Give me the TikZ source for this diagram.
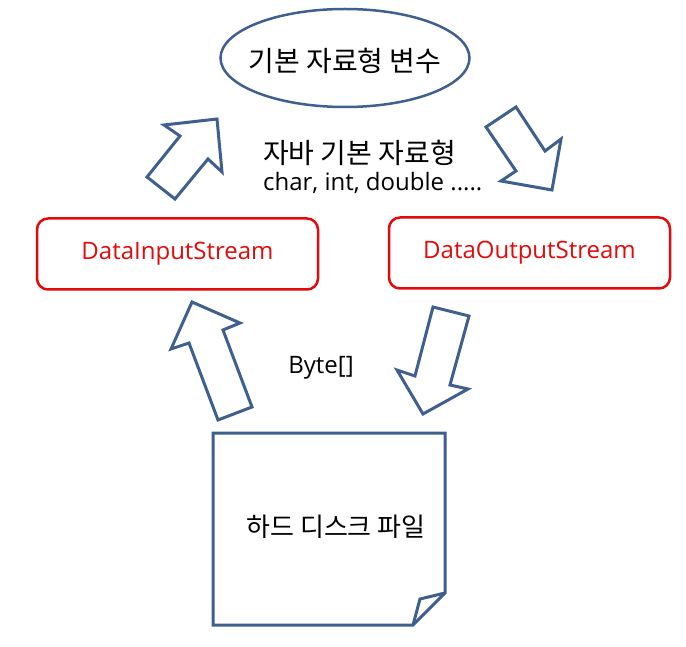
\documentclass[tikz,border=0pt]{standalone}
\usepackage{fontspec}
\setmainfont{Open Sans}
\newfontfamily\kr{Noto Sans CJK KR}
\usetikzlibrary{shapes.geometric}
\definecolor{lineblue}{HTML}{3F5F8F}
\definecolor{boxred}{HTML}{E20A0A}
\tikzset{
  blockarrow/.style={draw=lineblue, line width=3pt, line join=miter, fill=white},
  streambox/.style={draw=boxred, line width=2.5pt, rounded corners=11pt, minimum width=281pt, minimum height=71pt, text=boxred, font=\fontsize{24}{28}\selectfont},
  lbl/.style={font=\fontsize{24}{28}\selectfont, text=black, inner sep=0pt},
  krlbl/.style={font=\kr\fontsize{28}{32}\selectfont, text=black, inner sep=0pt},
}
\begin{document}
\begin{tikzpicture}[x=1pt,y=-1pt]
\useasboundingbox (0,0) rectangle (686,647);
% ellipse
\node[draw=lineblue, line width=2.5pt, ellipse, minimum width=249pt, minimum height=98pt, inner sep=0pt] (var) at (345,58) {};
\node[krlbl] (vartxt) at (345,61) {기본 자료형 변수};
% texts
\node[krlbl, anchor=west] (jtype) at (263,153) {자바 기본 자료형};
\node[lbl, anchor=west] (jlist) at (263,183) {char, int, double .....};
\node[lbl] (byte) at (321,368) {Byte[]};
% stream boxes
\node[streambox] (dis) at (177.5,254) {DataInputStream};
\node[streambox] (dos) at (529.5,253) {DataOutputStream};
% block arrows
\draw[blockarrow] (164,125) -- (217,119) -- (222,172) -- (208,159) -- (175,199) -- (147,177) -- (180,136) -- cycle;
\draw[blockarrow] (516,107) -- (545,151) -- (561,139) -- (552,190) -- (501,181) -- (516,171) -- (486,127) -- cycle;
\draw[blockarrow] (192,302) -- (240,323) -- (223,330) -- (252,407) -- (218,420) -- (189,343) -- (171,349) -- cycle;
\draw[blockarrow] (433,307) -- (469,316) -- (450,385) -- (468,389) -- (423,414) -- (397,370) -- (415,376) -- cycle;
% document
\coordinate (dtl) at (213,433);
\coordinate (dtr) at (445,433);
\coordinate (dfr) at (445,593);
\coordinate (dfb) at (413,625);
\coordinate (dbl) at (213,625);
\coordinate (dfi) at (420,599);
\draw[draw=lineblue, line width=3pt, line join=miter] (dtl) -- (dtr) -- (dfr) -- (dfb) -- (dbl) -- cycle;
\draw[draw=lineblue, line width=3pt, line join=miter] (dfr) -- (dfi) -- (dfb);
\node[krlbl, font=\kr\fontsize{26}{30}\selectfont] (file) at (336,527) {하드 디스크 파일};
\end{tikzpicture}
\end{document}
